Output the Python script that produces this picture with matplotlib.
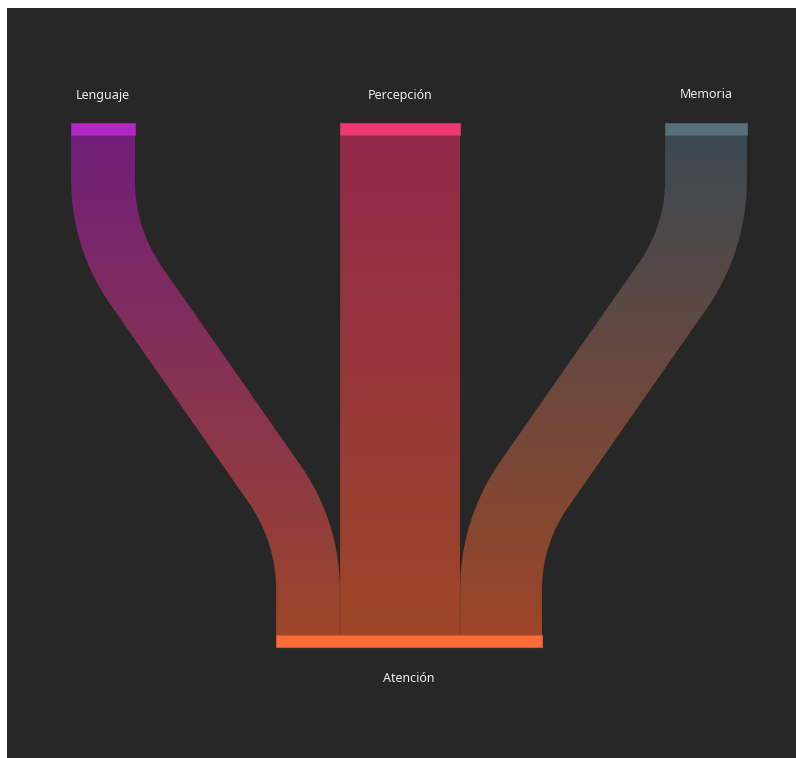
import numpy as np
import matplotlib
matplotlib.use("Agg")
import matplotlib.pyplot as plt
from matplotlib.patches import Polygon, Rectangle
from matplotlib.colors import to_rgb

# ---- data ----
sources = ["Lenguaje", "Percepción", "Memoria"]
target = "Atención"
values = [32, 60, 41]
node_colors = {"Lenguaje": "#B426C6", "Percepción": "#EF3872",
               "Memoria": "#56707E", "Atención": "#FF6B37"}

# ---- style / layout ----
BG = "#272727"
LINK_BASE = "#141414"
W, H = 796, 758
scale = 2.0          # px per unit
top_y, node_h = 123, 12
bot_y = 635
left_x, right_x = 71, 747
link_alpha = 0.58
stub, R = 45, 185

fig = plt.figure(figsize=(W / 100, H / 100), dpi=100, facecolor="white")
ax = fig.add_axes([7 / W, 0, 1 - 7 / W, 1 - 8 / H])
ax.set_facecolor(BG)
ax.axis("off")
ax.add_patch(Rectangle((7, 8), W, H, color=BG, zorder=0))

widths = [v * scale for v in values]
gap = (right_x - left_x - sum(widths)) / (len(widths) - 1)
src_x = []
x = left_x
for w in widths:
    src_x.append(x)
    x += w + gap
tot = sum(widths)
tgt_x0 = (left_x + right_x) / 2 - tot / 2


def mix(c, a, base=BG):
    c = np.array(to_rgb(c)); b = np.array(to_rgb(base))
    return a * c + (1 - a) * b


def centerline(x0, y0, x1, y1):
    dx = x1 - x0
    if abs(dx) < 1e-6:
        return (np.array([[x0, y0], [x1, y1]], float),
                np.array([[0, 1], [0, 1]], float))
    s = np.sign(dx); adx = abs(dx); dy = y1 - y0 - 2 * stub

    def f(t):
        L = (dy - 2 * R * np.sin(t)) / np.cos(t)
        return 2 * R * (1 - np.cos(t)) + L * np.sin(t) - adx
    lo, hi = 1e-6, 1.4
    for _ in range(80):
        mid = (lo + hi) / 2
        if f(mid) < 0:
            lo = mid
        else:
            hi = mid
    th = (lo + hi) / 2
    pts, tans = [], []
    pts.append((x0, y0)); tans.append((0, 1))
    for p in np.linspace(0, th, 60):
        pts.append((x0 + s * R * (1 - np.cos(p)), y0 + stub + R * np.sin(p)))
        tans.append((s * np.sin(p), np.cos(p)))
    for p in np.linspace(th, 0, 60):
        pts.append((x1 - s * R * (1 - np.cos(p)), y1 - stub - R * np.sin(p)))
        tans.append((s * np.sin(p), np.cos(p)))
    pts.append((x1, y1)); tans.append((0, 1))
    return np.array(pts, float), np.array(tans, float)


tx = tgt_x0
ybot_src = top_y + node_h
for name, sx, w in zip(sources, src_x, widths):
    cx0 = sx + w / 2
    cx1 = tx + w / 2
    pts, tans = centerline(cx0, ybot_src, cx1, bot_y)
    nrm = np.stack([tans[:, 1], -tans[:, 0]], axis=1).astype(float)
    nrm = nrm / np.linalg.norm(nrm, axis=1)[:, None]
    left = pts + nrm * w / 2
    right = pts - nrm * w / 2
    poly = np.vstack([left, right[::-1]])
    patch = Polygon(poly, closed=True, facecolor="none", edgecolor="none")
    ax.add_patch(patch)
    c0 = mix(node_colors[name], link_alpha, LINK_BASE)
    c1 = mix(node_colors[target], link_alpha, LINK_BASE)
    t = np.linspace(0, 1, 256)[:, None]
    grad = (1 - t) * c0 + t * c1
    img = grad[:, None, :]
    xmin, xmax = poly[:, 0].min() - 2, poly[:, 0].max() + 2
    im = ax.imshow(img, extent=(xmin, xmax, bot_y, ybot_src), origin="upper",
                   aspect="auto", interpolation="bilinear", zorder=2)
    im.set_clip_path(patch)
    # faint darker outline
    for side in (left, right):
        ax.plot(side[:, 0], side[:, 1], color=(0.1, 0.1, 0.1), alpha=0.15,
                linewidth=0.5, zorder=2.5)
    tx += w

ax.set_xlim(7, W)
ax.set_ylim(H, 8)


def edge(c):
    return mix(c, 0.75)


for name, sx, w in zip(sources, src_x, widths):
    c = node_colors[name]
    ax.add_patch(Rectangle((sx, top_y), w, node_h, facecolor=c,
                           edgecolor=edge(c), linewidth=0.8, zorder=3))
    ax.text(sx + w / 2, top_y - 28, name, ha="center", va="center",
            color="#EDEDED", fontsize=9, family=["Noto Sans", "DejaVu Sans"], zorder=4)

c = node_colors[target]
ax.add_patch(Rectangle((tgt_x0, bot_y), tot, node_h, facecolor=c,
                       edgecolor=edge(c), linewidth=0.8, zorder=3))
ax.text(tgt_x0 + tot / 2, bot_y + node_h + 31, target, ha="center", va="center",
        color="#EDEDED", fontsize=9, family=["Noto Sans", "DejaVu Sans"], zorder=4)

fig.savefig("out.png", dpi=100, facecolor="white")
